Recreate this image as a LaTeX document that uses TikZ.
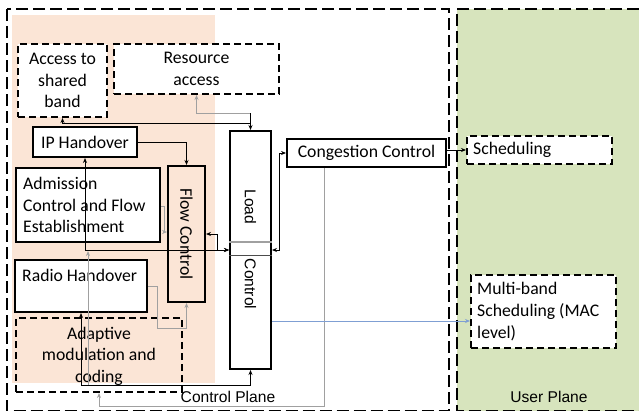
\documentclass[tikz,border=0pt]{standalone}
\usepackage{fontspec}
\setmainfont{Carlito}
\newfontfamily\arialf{Liberation Sans}
\usetikzlibrary{arrows.meta}
\definecolor{peach}{HTML}{FBE5D6}
\definecolor{olive}{HTML}{D7E4BD}
\definecolor{lgray}{HTML}{A0A0A0}
\definecolor{lblue}{HTML}{7F9FD3}
\tikzset{
  txt/.style={font=\fontsize{17.7}{21.6}\selectfont, inner sep=0pt, align=center},
  atxt/.style={font=\arialf\fontsize{15.6}{18}\selectfont, inner sep=0pt},
  solidbox/.style={draw=black, line width=2pt, fill=white, inner sep=0pt},
  dashbox/.style={draw=black, line width=2pt, dash pattern=on 7pt off 4pt, inner sep=0pt},
  frame/.style={draw=black, line width=1.8pt, dash pattern=on 12pt off 5pt},
  conn/.style={line width=0.8pt, draw=black},
  gconn/.style={line width=1pt, draw=lgray},
  tip/.style={arrows={-Stealth[length=5pt,width=4pt]}},
  tips/.style={arrows={Stealth[length=5pt,width=4pt]-Stealth[length=5pt,width=4pt]}},
  rtip/.style={arrows={Stealth[length=5pt,width=4pt]-}},
}
\begin{document}
\begin{tikzpicture}[x=1pt,y=-1pt]
\useasboundingbox (0,0) rectangle (639,412);
% backgrounds
\fill[olive] (457,9) rectangle (639,410.5);
\draw[frame] (639,9) -- (457,9) -- (457,410.5) -- (639,410.5);
\fill[peach] (12,15) rectangle (215,383);
\draw[frame] (7,9) rectangle (449,410.5);

% boxes
\node[dashbox, fill=white, minimum width=89pt, minimum height=73pt] (acc) at (62.5,80.5) {};
\node[txt] (acct) at (acc.center) {Access to\\shared\\band};
\node[dashbox, fill=white, minimum width=165pt, minimum height=50pt] (res) at (196.5,69) {};
\node[txt] (rest) at (res.center) {Resource\\access};
\node[solidbox, minimum width=104pt, minimum height=30pt] (iph) at (85,142) {};
\node[txt] (ipht) at (iph.center) {IP Handover};
\node[solidbox, minimum width=144pt, minimum height=74pt] (adm) at (88,205) {};
\node[txt, align=left, anchor=west] (admt) at (23,205) {Admission\\Control and Flow\\Establishment};
\node[solidbox, fill=peach, minimum width=37pt, minimum height=136pt] (flow) at (186.5,234) {};
\node[txt, rotate=-90] (flowt) at (186.5,234) {Flow Control};
\node[solidbox, minimum width=41pt, minimum height=238pt] (load) at (250.5,250) {};
\draw[lgray, line width=1.8pt] (load.west |- 0,242) -- (load.east |- 0,242);
\draw[black!70, line width=0.7pt] (load.west |- 0,255) -- (load.east |- 0,255);
\node[atxt, rotate=-90] (loadt) at (250.5,207) {Load};
\node[atxt, rotate=-90] (ctrlt) at (250.5,284) {Control};
\node[solidbox, minimum width=159pt, minimum height=28pt] (cc) at (366.5,153) {};
\node[txt] (cct) at (cc.center) {Congestion Control};
\node[dashbox, fill=white, minimum width=145pt, minimum height=28pt] (sch) at (539.5,150) {};
\node[txt, anchor=west] (scht) at (473,150) {Scheduling};
\node[dashbox, fill=white, minimum width=145pt, minimum height=73pt] (mbs) at (543.5,311.5) {};
\node[txt, align=left, anchor=west] (mbst) at (477,311.5) {Multi-band\\Scheduling (MAC\\level)};
\node[solidbox, minimum width=132pt, minimum height=52pt] (rh) at (81,286) {};
\node[txt, anchor=west] (rht) at (22,275) {Radio Handover};
\node[dashbox, minimum width=166pt, minimum height=74pt] (amc) at (99,355) {};
\node[txt] (amct) at (99,356) {Adaptive\\modulation and\\coding};

% labels
\node[atxt] (cpl) at (228,397) {Control Plane};
\node[atxt] (upl) at (549,397) {User Plane};

% connectors
\coordinate (jr) at (250.5,113);
\coordinate (ja) at (250.5,123);
\draw[gconn, rtip] (res.south) |- (jr);
\draw[conn] (jr) -- (ja);
\draw[conn, tips] (acc.south) |- (ja) -- (load.north);
\draw[conn, tip] (iph.east) -| (flow.north);
\draw[gconn, tip] (adm.east |- 0,206) -- (164,206) |- ([yshift=2pt]flow.west);
\draw[conn, tips] (flow.east) -- (217,234) |- (load.west);
\draw[conn, tips] (iph.south) |- (load.west);
\draw[gconn, tip] (88,385) -- (88,251);
\draw[conn, tips] (rh.south) -- (81,385) -| (load.south);
\draw[gconn, tip] (rh.east) -| (157,328) -| (flow.south);
\draw[gconn, rtip] (amc.south) -- (99,406.5) -| ([xshift=-42.5pt]cc.south);
\draw[conn, tips] (load.east) -- (279,250) |- (cc.west);
\draw[conn, tip] (sch.west -| cc.east) -- (sch.west);
\coordinate (mb) at ([yshift=-9.5pt]mbs.west);
\draw[draw=lblue, line width=1pt, tip] (load.east |- mb) -- (mb);
\end{tikzpicture}
\end{document}
